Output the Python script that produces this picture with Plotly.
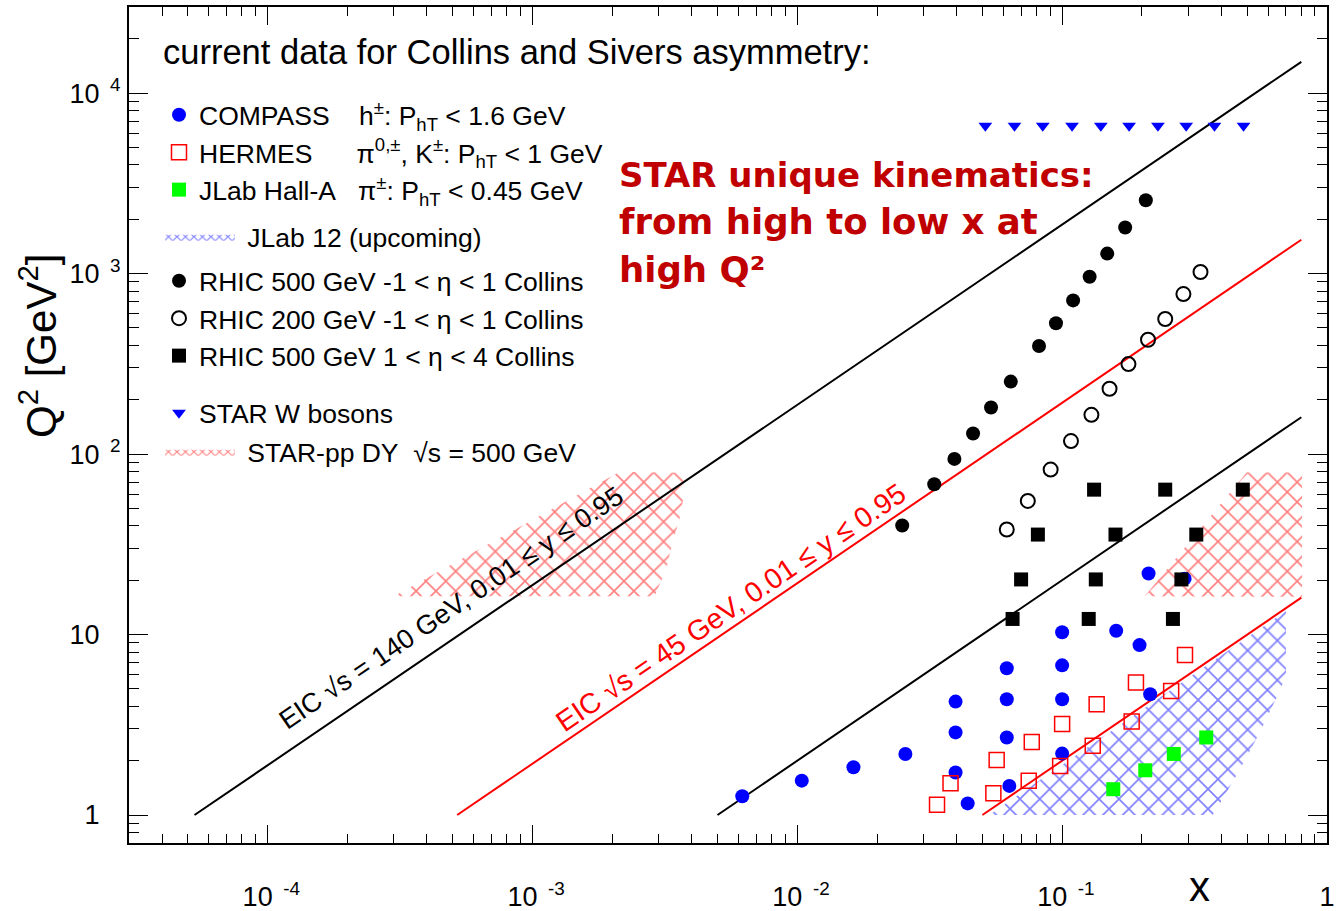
import plotly.graph_objects as go

# ---------------- data ----------------
# COMPASS (h+-)
compass_x = [0.0062, 0.0104, 0.0163, 0.0256, 0.0396, 0.0396, 0.0396, 0.0440,
             0.0618, 0.0618, 0.0618, 0.0632, 0.100, 0.100, 0.100, 0.100,
             0.160, 0.196, 0.212, 0.215, 0.290]
compass_q2 = [1.27, 1.55, 1.84, 2.18, 4.25, 2.87, 1.72, 1.16,
              6.50, 4.38, 2.69, 1.45, 10.3, 6.75, 4.38, 2.19,
              10.5, 8.74, 21.8, 4.67, 20.4]

# HERMES
hermes_x = [0.291, 0.190, 0.258, 0.135, 0.183, 0.100, 0.0768, 0.1305,
            0.0566, 0.0983, 0.0379, 0.0748, 0.0550, 0.0337]
hermes_q2 = [7.70, 5.42, 4.87, 4.11, 3.30, 3.19, 2.54, 2.42,
             2.02, 1.87, 1.50, 1.55, 1.32, 1.14]

# JLab Hall-A
jlab_x = [0.350, 0.264, 0.206, 0.156]
jlab_q2 = [2.69, 2.18, 1.77, 1.39]

# RHIC 500 GeV, -1 < eta < 1
rhic500_x = [0.0249, 0.0329, 0.0392, 0.0461, 0.0539, 0.0640, 0.0818, 0.0948,
             0.110, 0.127, 0.148, 0.173, 0.207]
rhic500_q2 = [40.2, 68.0, 94.0, 130, 181, 252, 397, 531,
              710, 960, 1290, 1800, 2550]

# RHIC 200 GeV, -1 < eta < 1
rhic200_x = [0.0618, 0.0742, 0.0905, 0.108, 0.129, 0.151, 0.178, 0.211,
             0.245, 0.287, 0.333]
rhic200_q2 = [38.2, 55.0, 82.0, 118, 165, 230, 315, 430,
              560, 770, 1020]

# RHIC 500 GeV, 1 < eta < 4
rhicfwd_x = [0.132, 0.245, 0.481, 0.081, 0.159, 0.321, 0.070, 0.134, 0.282,
             0.065, 0.126, 0.262]
rhicfwd_q2 = [63.5, 63.5, 63.5, 35.8, 35.8, 35.8, 20.2, 20.2, 20.2,
              12.2, 12.2, 12.2]

# STAR W bosons
starw_x = [0.0513, 0.0661, 0.0845, 0.109, 0.140, 0.179, 0.230, 0.294, 0.376, 0.484]
starw_q2 = [6600] * 10

# JLab 12 GeV upcoming coverage (outline)
jlab12_x = [0.053, 0.70, 0.70, 0.66, 0.56, 0.47, 0.39, 0.37, 0.053]
jlab12_q2 = [1.0, 13.5, 5.9, 4.8, 2.9, 1.8, 1.13, 1.0, 1.0]

# STAR pp Drell-Yan coverage (two regions, separated by None)
dy_x = [3.0e-4, 2.13e-3, 3.68e-3, 3.75e-3, 3.59e-3, 3.38e-3, 3.20e-3, 2.89e-3, 3.0e-4, None,
        0.205, 0.497, 0.805, 0.805, 0.205]
dy_q2 = [16.3, 79.5, 78.9, 61.1, 43.4, 32.3, 22.9, 16.3, 16.3, None,
         16.3, 79.0, 79.0, 16.2, 16.3]

# kinematic lines
eic140_x = [5.3e-5, 0.8]
eic140_q2 = [1.0, 14900]
eic45_x = [5.2e-4, 0.8]
eic45_q2 = [1.0, 1540]
fixed_hi_x = [0.005, 0.8]
fixed_hi_q2 = [1.0, 160]
fixed_lo_x = [0.05, 0.8]
fixed_lo_q2 = [1.0, 16]

# axis ticks
x_major = [1e-4, 1e-3, 1e-2, 1e-1, 1]
x_major_text = ["&nbsp;10<sup>&nbsp;&nbsp;-4</sup>", "&nbsp;10<sup>&nbsp;&nbsp;-3</sup>",
                "&nbsp;10<sup>&nbsp;&nbsp;-2</sup>", "&nbsp;10<sup>&nbsp;&nbsp;-1</sup>", "1"]
ghost = "<sup><span style='color:rgba(0,0,0,0)'>&nbsp;&nbsp;4</span></sup>"
y_major = [1, 10, 100, 1000, 10000]
y_major_text = ["1" + ghost, "10" + ghost, "10<sup>&nbsp;&nbsp;2</sup>",
                "10<sup>&nbsp;&nbsp;3</sup>", "10<sup>&nbsp;&nbsp;4</sup>"]

x_minor = [m * 10.0 ** k for k in range(-5, 0) for m in range(2, 10)]
x_minor = [v for v in x_minor if 3e-5 <= v < 1]
y_minor = [m * 10.0 ** k for k in range(-1, 5) for m in range(2, 10)]
y_minor = [v for v in y_minor if 0.7 <= v <= 3e4]

FONT = "Liberation Sans, Arial, Helvetica, sans-serif"
NB = "&nbsp;"


# pixel helpers for paper placement (plot area 129..1327 x 7..843)
def px(xpix):
    return (xpix - 129) / 1198.0


def py(ypix):
    return 1 - (ypix - 7) / 836.0


fig = go.Figure()

hatch = dict(shape="x", bgcolor="rgba(0,0,0,0)", size=14, solidity=0.22)
key_hatch = dict(shape="x", bgcolor="rgba(0,0,0,0)", size=6, solidity=0.35)

# hatched regions
fig.add_trace(go.Scatter(
    x=jlab12_x, y=jlab12_q2, mode="lines", fill="toself",
    line=dict(width=0, color="blue"), fillcolor="rgba(0,0,0,0)",
    fillpattern=dict(fgcolor="blue", **hatch), showlegend=False, hoverinfo="skip"))
fig.add_trace(go.Scatter(
    x=dy_x, y=dy_q2, mode="lines", fill="toself",
    line=dict(width=0, color="red"), fillcolor="rgba(0,0,0,0)",
    fillpattern=dict(fgcolor="red", **hatch), showlegend=False, hoverinfo="skip"))

# legend keys for the hatched regions
fig.add_trace(go.Scatter(
    x=[None], y=[None], mode="lines", fill="toself",
    line=dict(width=0, color="blue"), fillcolor="rgba(0,0,0,0)",
    fillpattern=dict(fgcolor="blue", **key_hatch),
    name=NB + "JLab 12 (upcoming)", legend="legend2", hoverinfo="skip"))
fig.add_trace(go.Scatter(
    x=[None], y=[None], mode="lines", fill="toself",
    line=dict(width=0, color="red"), fillcolor="rgba(0,0,0,0)",
    fillpattern=dict(fgcolor="red", **key_hatch),
    name=NB + "STAR-pp DY&nbsp;&nbsp;√s = 500 GeV", legend="legend5", hoverinfo="skip"))

# kinematic lines
for lx, ly, col in [(eic140_x, eic140_q2, "black"), (eic45_x, eic45_q2, "red"),
                    (fixed_hi_x, fixed_hi_q2, "black"), (fixed_lo_x, fixed_lo_q2, "red")]:
    fig.add_trace(go.Scatter(x=lx, y=ly, mode="lines", line=dict(color=col, width=2),
                             showlegend=False, hoverinfo="skip"))

# data points
fig.add_trace(go.Scatter(
    x=compass_x, y=compass_q2, mode="markers",
    marker=dict(symbol="circle", size=14, color="blue"),
    name="COMPASS" + NB * 4 + "h<sup>±</sup>: P<sub>hT</sub> &lt; 1.6 GeV", legend="legend"))
fig.add_trace(go.Scatter(
    x=hermes_x, y=hermes_q2, mode="markers",
    marker=dict(symbol="square-open", size=15, color="red", line=dict(width=1.5)),
    name="HERMES" + NB * 6 + "π<sup>0,±</sup>, K<sup>±</sup>: P<sub>hT</sub> &lt; 1 GeV",
    legend="legend"))
fig.add_trace(go.Scatter(
    x=jlab_x, y=jlab_q2, mode="markers",
    marker=dict(symbol="square", size=14, color="#00ff00"),
    name="JLab Hall-A" + NB * 3 + "π<sup>±</sup>: P<sub>hT</sub> &lt; 0.45 GeV",
    legend="legend"))
fig.add_trace(go.Scatter(
    x=rhic500_x, y=rhic500_q2, mode="markers",
    marker=dict(symbol="circle", size=14, color="black"),
    name="RHIC 500 GeV -1 &lt; η &lt; 1 Collins", legend="legend3"))
fig.add_trace(go.Scatter(
    x=rhic200_x, y=rhic200_q2, mode="markers",
    marker=dict(symbol="circle-open", size=14, color="black", line=dict(width=2)),
    name="RHIC 200 GeV -1 &lt; η &lt; 1 Collins", legend="legend3"))
fig.add_trace(go.Scatter(
    x=rhicfwd_x, y=rhicfwd_q2, mode="markers",
    marker=dict(symbol="square", size=14, color="black"),
    name="RHIC 500 GeV 1 &lt; η &lt; 4 Collins", legend="legend3"))
fig.add_trace(go.Scatter(
    x=starw_x, y=starw_q2, mode="markers",
    marker=dict(symbol="triangle-down", size=12, color="blue"),
    name="STAR W bosons", legend="legend4"))

axis_common = dict(
    type="log", showline=True, linecolor="black", linewidth=2, mirror="ticks",
    ticks="inside", tickcolor="black", tickwidth=1.3, showgrid=False, zeroline=False,
    automargin=False, tickfont=dict(family=FONT, size=27, color="black"),
)
fig.update_xaxes(
    **axis_common, range=[-4.523, 0.0], tickmode="array", tickvals=x_major,
    ticktext=x_major_text, ticklen=18, ticklabelstandoff=29,
    minor=dict(tickmode="array", tickvals=x_minor, ticks="inside", ticklen=9,
               tickcolor="black", tickwidth=1.3, showgrid=False))
fig.update_yaxes(
    **axis_common, range=[-0.155, 4.477], tickmode="array", tickvals=y_major,
    ticktext=y_major_text, ticklen=19, ticklabelstandoff=1,
    minor=dict(tickmode="array", tickvals=y_minor, ticks="inside", ticklen=10,
               tickcolor="black", tickwidth=1.3, showgrid=False))

annotations = [
    dict(text="current data for Collins and Sivers asymmetry:", xref="paper", yref="paper",
         x=px(161), y=py(52), xanchor="left", yanchor="middle", showarrow=False,
         font=dict(family=FONT, size=34.5, color="black")),
    dict(text="Q<sup>2</sup> [GeV<sup>2</sup>]", xref="paper", yref="paper",
         x=px(38), y=py(346), xanchor="center", yanchor="middle", textangle=-90,
         showarrow=False, font=dict(family=FONT, size=42, color="black")),
    dict(text="x", xref="paper", yref="paper", x=px(1199), y=py(911),
         xanchor="center", yanchor="bottom", borderpad=0, showarrow=False,
         font=dict(family=FONT, size=42, color="black")),
    dict(text="EIC √s = 140 GeV, 0.01 ≤ y ≤ 0.95", xref="x", yref="y",
         x=-3.306, y=1.145, textangle=-34.2, showarrow=False,
         font=dict(family=FONT, size=27, color="black")),
    dict(text="EIC √s = 45 GeV, 0.01 ≤ y ≤ 0.95", xref="x", yref="y",
         x=-2.249, y=1.150, textangle=-34.3, showarrow=False,
         font=dict(family=FONT, size=28.5, color="red")),
]
star_lines = [("STAR unique kinematics:", 34), ("from high to low x at", 35.5), ("high Q²", 35.5)]
for i, (line, fs) in enumerate(star_lines):
    annotations.append(dict(
        text="<b>" + line + "</b>", xref="paper", yref="paper",
        x=px(617), y=py(175 + 47 * i),
        xanchor="left", yanchor="middle", showarrow=False,
        font=dict(family="DejaVu Sans, sans-serif", size=fs, color="#c00000")))

leg_common = dict(xanchor="left", yanchor="top", bgcolor="rgba(0,0,0,0)", borderwidth=0,
                  font=dict(family=FONT, size=26.5, color="black"))
fig.update_layout(
    width=1342, height=911,
    margin=dict(l=129, r=15, t=7, b=68),
    paper_bgcolor="white", plot_bgcolor="white",
    showlegend=True,
    legend=dict(x=px(159), y=py(91), **leg_common),
    legend2=dict(x=px(160), y=py(213), itemwidth=70, **leg_common),
    legend3=dict(x=px(159), y=py(257), **leg_common),
    legend4=dict(x=px(159), y=py(389), **leg_common),
    legend5=dict(x=px(160), y=py(428), itemwidth=70, **leg_common),
    annotations=annotations,
)

fig.write_html("out.html")
